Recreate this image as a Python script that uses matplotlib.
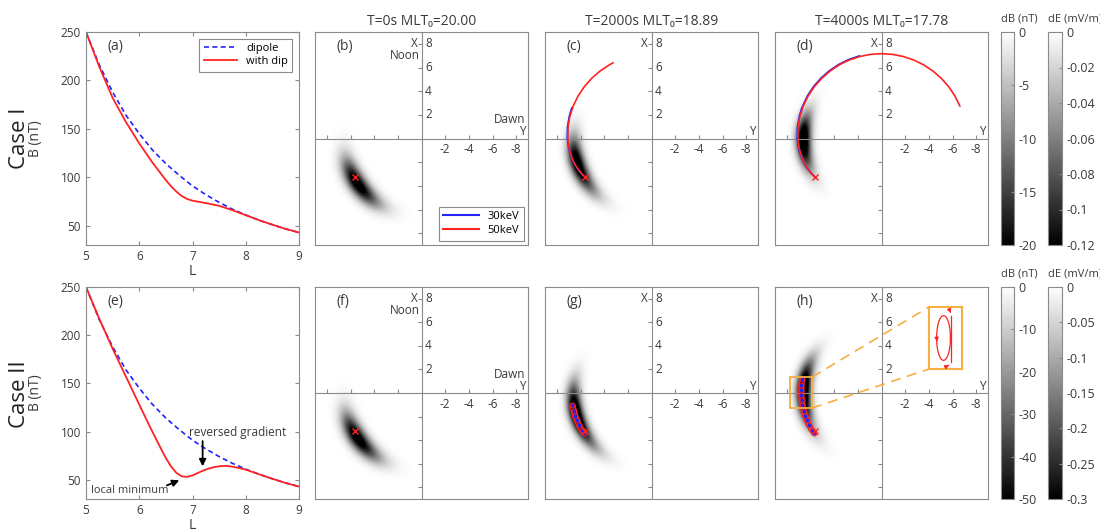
import numpy as np
import matplotlib
matplotlib.use('Agg')
import matplotlib.pyplot as plt
from matplotlib.colors import Normalize
from matplotlib.cm import ScalarMappable
from matplotlib.ticker import FormatStrFormatter

plt.rcParams['font.family'] = ['Open Sans', 'DejaVu Sans']
plt.rcParams['font.size'] = 8.5
plt.rcParams['axes.unicode_minus'] = False

# ---- B(L) profiles, panels (a) and (e)
L_dip = [5, 5.25, 5.5, 5.75, 6, 6.25, 6.5, 6.75, 7, 7.25, 7.5, 7.75, 8, 8.25, 8.5, 8.75, 9]
B_dip = [250, 216, 188, 164, 145, 128, 114, 102, 91, 82, 74, 67, 61, 55.6, 51, 46.6, 42.9]

L_case1 = [5, 5.25, 5.5, 5.75, 6, 6.25, 6.5, 6.6, 6.7, 6.8, 6.9, 7.0, 7.1, 7.25, 7.5, 7.75,
           8, 8.25, 8.5, 8.75, 9]
B_case1 = [250, 214, 182, 157, 135, 115, 97, 90.5, 85, 80.5, 77.5, 75.8, 74.8, 73.3, 70.5, 66,
           60.8, 55.6, 51, 46.6, 42.9]

L_case2 = [5, 5.25, 5.5, 5.75, 6, 6.2, 6.4, 6.5, 6.6, 6.7, 6.8, 6.9, 7, 7.1, 7.2, 7.3, 7.4,
           7.5, 7.6, 7.7, 7.8, 7.9, 8, 8.25, 8.5, 8.75, 9]
B_case2 = [250, 217, 186, 157, 128, 105, 83, 72.5, 63.5, 57, 53.5, 53, 54.5, 57, 59.5, 61.5, 63,
           64, 64.3, 64, 63, 61.8, 60.5, 55.7, 51, 46.6, 42.9]

# ---- snapshots
times = [0, 2000, 4000]
mlt0 = ['20.00', '18.89', '17.78']

# injection point (red x)
start_L = 6.5
start_mlt = 20.0

# case I drift paths (MLT, L)
red1_mlt = [20, 19.75, 19.5, 19.25, 19, 18.5, 18, 17.5, 17, 16.5, 16, 15.5, 15, 14.5, 14, 13.8,
            13.5, 13, 12.5, 12, 11.5, 11, 10.5, 10, 9.5, 9, 8.5, 8, 7.5]
red1_L = [6.5, 6.62, 6.73, 6.82, 6.9, 7.01, 7.08, 7.12, 7.15, 7.16, 7.17, 7.17, 7.17, 7.17, 7.17,
          7.17, 7.17, 7.17, 7.17, 7.17, 7.17, 7.17, 7.17, 7.17, 7.17, 7.17, 7.17, 7.17, 7.17]
blue1_mlt = [20, 19.75, 19.5, 19.25, 19, 18.5, 18, 17.5, 17, 16.6, 16, 15.5, 15, 14.5, 14, 13.5, 13]
blue1_L = [6.5, 6.63, 6.74, 6.84, 6.92, 7.04, 7.11, 7.16, 7.19, 7.21, 7.22, 7.22, 7.22, 7.22,
           7.22, 7.22, 7.22]
red1_end = [20.0, 13.8, 7.5]
blue1_end = [20.0, 16.6, 13.0]

# case II trapped paths: guiding line (MLT, L)
trap_mlt = [20.05, 19.85, 19.6, 19.35, 19.1, 18.85, 18.6, 18.35, 18.1, 17.85, 17.6, 17.35]
trap_L = [6.62, 6.68, 6.71, 6.73, 6.74, 6.75, 6.76, 6.77, 6.78, 6.79, 6.8, 6.8]
trap_width = 0.2
trap_end = [20.05, 18.6, 17.35]

# wave field blobs (dB), per snapshot
blob_L0 = 6.6
blob1_mlt = [20.3, 19.2, 18.0]
blob1_sL = [0.5, 0.45, 0.42]
blob1_lo = [0.9, 0.9, 0.85]
blob1_hi = [1.0, 1.1, 1.0]
blob1_amp = [1.15, 1.2, 1.3]
blob2_mlt = [20.3, 19.0, 17.8]
blob2_sL = [0.5, 0.42, 0.42]
blob2_lo = [0.9, 1.0, 1.0]
blob2_hi = [1.0, 1.2, 1.2]
blob2_amp = [1.15, 1.35, 1.35]

dB_range = [20, 50]
dE_range = [0.12, 0.3]
dB_ticks = [[0, -5, -10, -15, -20], [0, -10, -20, -30, -40, -50]]
dE_ticks = [[0, -0.02, -0.04, -0.06, -0.08, -0.1, -0.12],
            [0, -0.05, -0.1, -0.15, -0.2, -0.25, -0.3]]

xy_ticks = [2, 4, 6, 8]

GRAY = '#8a8a8a'
TXT = '#3a3a3a'
RED = '#ff2222'
BLUE = '#2222ff'
ORANGE = '#f5b041'

W, H = 1100, 532


def box(x0, y0, w, h):
    return [x0 / W, 1 - (y0 + h) / H, w / W, h / H]


def to_xy(mlt, L):
    ang = np.radians((np.asarray(mlt) - 12) * 15)
    L = np.asarray(L)
    return L * np.sin(ang), L * np.cos(ang)   # (Y, X)


def style_frame(ax):
    for s in ax.spines.values():
        s.set_color(GRAY)
        s.set_linewidth(0.8)


def draw_profile(ax, L_c, B_c, label):
    ax.plot(L_dip, B_dip, color=BLUE, ls=(0, (3, 2)), lw=1.2, label='dipole')
    ax.plot(L_c, B_c, color=RED, lw=1.3, label='with dip')
    ax.set_xlim(5, 9)
    ax.set_ylim(30, 250)
    ax.set_xticks([5, 6, 7, 8, 9])
    ax.set_yticks([50, 100, 150, 200, 250])
    ax.tick_params(direction='in', top=True, right=True, length=3, color=GRAY,
                   labelcolor=TXT, labelsize=8.5)
    ax.set_xlabel('L', color=TXT, fontsize=10, labelpad=1)
    ax.set_ylabel('B (nT)', color=TXT, fontsize=10)
    ax.yaxis.set_label_coords(-0.2, 0.5)
    ax.text(0.1, 0.93, label, transform=ax.transAxes, fontsize=10, color=TXT, va='center')
    style_frame(ax)


def draw_xy(ax, m0, sL, s_lo, s_hi, amp, vrange, label, first):
    Yv = np.linspace(-9, 9, 361)
    Yg, Xg = np.meshgrid(Yv, Yv)
    r = np.hypot(Yg, Xg)
    mlt = (12 + np.degrees(np.arctan2(Yg, Xg)) / 15) % 24
    dm = mlt - m0
    sm = np.where(dm < 0, s_lo, s_hi)
    field = -amp * vrange * np.exp(-0.5 * ((r - blob_L0) / sL) ** 2 - 0.5 * (dm / sm) ** 2)
    ax.pcolormesh(Yg, Xg, field, cmap='gray', vmin=-vrange, vmax=0, shading='gouraud')
    ax.set_xlim(9, -9)
    ax.set_ylim(-9, 9)
    ax.set_xticks([])
    ax.set_yticks([])
    ax.axhline(0, color=GRAY, lw=0.8)
    ax.axvline(0, color=GRAY, lw=0.8)
    tk = [-t for t in xy_ticks] + xy_ticks
    ax.plot(tk, np.zeros(len(tk)), ls='none', marker=2, ms=3, color=GRAY, mew=0.8)
    ax.plot(np.zeros(len(tk)), tk, ls='none', marker=0, ms=3, color=GRAY, mew=0.8)
    for t in xy_ticks:
        ax.text(-0.3, t, str(t), ha='left', va='center', color=TXT, fontsize=8.5)
        ax.text(-t, -0.4, str(-t), ha='center', va='top', color=TXT, fontsize=8.5)
    ax.text(0.3, 8.0, 'X', ha='right', va='center', color=TXT, fontsize=8.5)
    ax.text(-8.8, 0.55, 'Y', ha='right', va='center', color=TXT, fontsize=8.5)
    if first:
        ax.text(0.1, 7.0, 'Noon', ha='right', va='center', color=TXT, fontsize=8.5)
        ax.text(-8.8, 1.6, 'Dawn', ha='right', va='center', color=TXT, fontsize=8.5)
    ax.text(0.1, 0.93, label, transform=ax.transAxes, fontsize=10, color=TXT, va='center')
    style_frame(ax)


def draw_colorbar(fig, rect, vrange, ticks, title):
    cax = fig.add_axes(rect)
    sm = ScalarMappable(norm=Normalize(-vrange, 0), cmap='gray')
    cb = fig.colorbar(sm, cax=cax, ticks=ticks)
    cb.ax.yaxis.set_major_formatter(FormatStrFormatter('%g'))
    cb.outline.set_edgecolor(GRAY)
    cb.outline.set_linewidth(0.8)
    cax.tick_params(direction='in', length=2, color=GRAY, labelcolor=TXT, labelsize=9, pad=3)
    cax.text(0, 1.035, title, transform=cax.transAxes, ha='left', va='bottom',
             color=TXT, fontsize=8)


fig = plt.figure(figsize=(11, 5.32), dpi=100)

rows_y = [(32, 213), (287, 212)]
cols_x = [315, 545, 775]
panel_labels = [['(b)', '(c)', '(d)'], ['(f)', '(g)', '(h)']]

# ---- profiles
ax_a = fig.add_axes(box(86, 32, 213, 213))
draw_profile(ax_a, L_case1, B_case1, '(a)')
leg = ax_a.legend(loc='upper right', fontsize=8, handlelength=3.0, fancybox=False,
                  edgecolor=GRAY, framealpha=1, borderaxespad=0.6, labelspacing=0.2)
leg.get_frame().set_linewidth(0.8)

ax_e = fig.add_axes(box(86, 287, 213, 212))
draw_profile(ax_e, L_case2, B_case2, '(e)')
ax_e.text(7.84, 99, 'reversed gradient', ha='center', va='center', color=TXT, fontsize=8.5)
ax_e.annotate('', xy=(7.19, 61), xytext=(7.19, 93),
              arrowprops=dict(arrowstyle='-|>', color='k', lw=1.3, mutation_scale=10))
ax_e.text(5.09, 39, 'local minimum', ha='left', va='center', color=TXT, fontsize=8)
ax_e.annotate('', xy=(6.8, 50.5), xytext=(6.47, 43),
              arrowprops=dict(arrowstyle='-|>', color='k', lw=1.3, mutation_scale=10))

fig.text(0.018, 0.74, 'Case I', rotation=90, fontsize=16, va='center', ha='center', color='#222222')
fig.text(0.018, 0.259, 'Case II', rotation=90, fontsize=16, va='center', ha='center', color='#222222')

# ---- equatorial snapshots
for row in range(2):
    y0, h = rows_y[row]
    for k in range(3):
        ax = fig.add_axes(box(cols_x[k], y0, 213, h))
        if row == 0:
            draw_xy(ax, blob1_mlt[k], blob1_sL[k], blob1_lo[k], blob1_hi[k], blob1_amp[k],
                    dB_range[0], panel_labels[row][k], k == 0)
            ax.set_title(f'T={times[k]}s MLT\u2080={mlt0[k]}', fontsize=10, color=TXT, pad=5)
            if k > 0:
                bm = np.array(blue1_mlt) >= blue1_end[k] - 1e-9
                rm = np.array(red1_mlt) >= red1_end[k] - 1e-9
                by, bx = to_xy(np.array(blue1_mlt)[bm], np.array(blue1_L)[bm])
                ry, rx = to_xy(np.array(red1_mlt)[rm], np.array(red1_L)[rm])
                ax.plot(by, bx, color=BLUE, lw=1.3)
                ax.plot(ry, rx, color=RED, lw=1.2)
        else:
            draw_xy(ax, blob2_mlt[k], blob2_sL[k], blob2_lo[k], blob2_hi[k], blob2_amp[k],
                    dB_range[1], panel_labels[row][k], k == 0)
            if k > 0:
                m = np.array(trap_mlt) >= trap_end[k] - 1e-9
                tm = np.array(trap_mlt)[m]
                tL = np.array(trap_L)[m]
                oy, ox = to_xy(tm, tL + trap_width)
                iy, ix = to_xy(tm[::-1], tL[::-1] - trap_width)
                ax.plot(np.r_[oy, iy, oy[:1]], np.r_[ox, ix, ox[:1]], color=RED, lw=1.0)
                cy, cx = to_xy(tm, tL)
                ax.plot(cy, cx, ls='none', marker='o', ms=3.5, mfc='none', mec=RED, mew=0.8)
                ax.plot(cy, cx, ls=':', marker='.', ms=3, color=BLUE, lw=0.9)
        sy, sx = to_xy(start_mlt, start_L)
        ax.plot(sy, sx, ls='none', marker='x', ms=5, mew=1.0, color=RED)

        if row == 0 and k == 0:
            ax.plot([], [], color=BLUE, lw=1.5, label='30keV')
            ax.plot([], [], color=RED, lw=1.5, label='50keV')
            lg = ax.legend(loc='lower right', fontsize=8, handlelength=3.2, fancybox=False,
                           edgecolor=GRAY, framealpha=1, borderaxespad=0.4, labelspacing=0.25)
            lg.get_frame().set_linewidth(0.8)

        if row == 1 and k == 2:
            # zoom box and inset
            ax.add_patch(plt.Rectangle((0.070, 0.429), 0.104, 0.146, transform=ax.transAxes,
                                       fill=False, ec=ORANGE, lw=1.3, zorder=5))
            ax.plot([0.174, 0.723], [0.575, 0.906], transform=ax.transAxes, color=ORANGE,
                    lw=1.2, ls=(0, (6, 4)))
            ax.plot([0.174, 0.723], [0.429, 0.613], transform=ax.transAxes, color=ORANGE,
                    lw=1.2, ls=(0, (6, 4)))
            ins = ax.inset_axes([0.723, 0.613, 0.155, 0.293])
            ins.set_xlim(0, 1)
            ins.set_ylim(0, 1)
            ins.set_xticks([])
            ins.set_yticks([])
            for s in ins.spines.values():
                s.set_color(ORANGE)
                s.set_linewidth(1.5)
            th = np.linspace(0, 2 * np.pi, 200)
            ins.plot(0.44 + 0.21 * np.cos(th), 0.5 + 0.36 * np.sin(th), color=RED, lw=0.9)
            ins.annotate('', xy=(0.24, 0.44), xytext=(0.23, 0.52),
                         arrowprops=dict(arrowstyle='-|>', color=RED, lw=0.8, mutation_scale=6))
            ins.plot([0.66, 0.66], [0.12, 0.86], color=RED, lw=0.9)
            ins.annotate('', xy=(0.66, 0.9), xytext=(0.56, 0.93),
                         arrowprops=dict(arrowstyle='-|>', color=RED, lw=0.8, mutation_scale=6,
                                         connectionstyle='arc3,rad=-0.4'))
            ins.annotate('', xy=(0.66, 0.1), xytext=(0.52, 0.06),
                         arrowprops=dict(arrowstyle='-|>', color=RED, lw=0.8, mutation_scale=6,
                                         connectionstyle='arc3,rad=0.4'))

    # colorbars
    draw_colorbar(fig, box(1001, y0, 13, h), dB_range[row], dB_ticks[row], 'dB (nT)')
    draw_colorbar(fig, box(1048, y0, 14, h), dE_range[row], dE_ticks[row], 'dE (mV/m)')

fig.savefig('out.png', dpi=100)
